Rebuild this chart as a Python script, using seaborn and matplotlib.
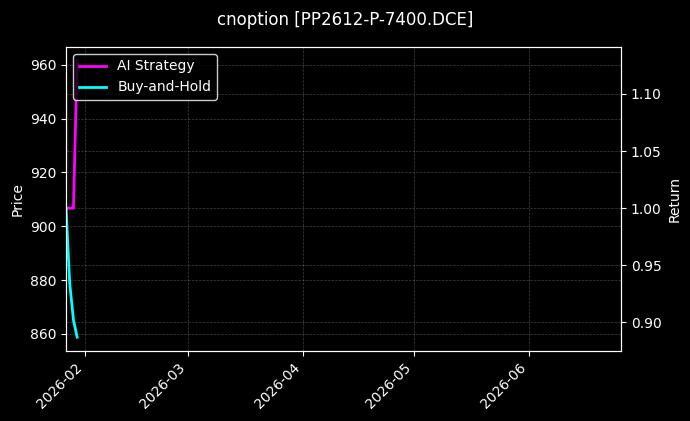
import numpy as np
import pandas as pd
import seaborn as sns
import matplotlib.pyplot as plt
import matplotlib.dates as mdates

# values
dates = pd.to_datetime(["2026-01-27", "2026-01-28", "2026-01-29", "2026-01-30"])
price = [961.5, 905.0, 872.0, 858.8]
ai_strategy = [1.0, 1.0, 1.0, 1.129]
buy_and_hold = [1.0, 0.934, 0.902, 0.887]
x_start = pd.Timestamp("2026-01-27")
x_end = pd.Timestamp("2026-06-26")
title = "cnoption [PP2612-P-7400.DCE]"

plt.style.use("dark_background")

df = pd.DataFrame({"date": dates, "price": price,
                   "AI Strategy": ai_strategy, "Buy-and-Hold": buy_and_hold})

fig, ax = plt.subplots(figsize=(6.9, 4.21), dpi=100)
fig.subplots_adjust(left=0.0957, right=0.9, top=0.8884, bottom=0.1663)

# price on the left axis (barely visible in the original)
sns.lineplot(data=df, x="date", y="price", ax=ax, color="#3a1010", linewidth=1, alpha=0.6)
ax.set_ylabel("Price")
ax.set_xlabel("")

ax2 = ax.twinx()
sns.lineplot(data=df, x="date", y="AI Strategy", ax=ax2, color="#ff00ff",
             linewidth=2, label="AI Strategy")
sns.lineplot(data=df, x="date", y="Buy-and-Hold", ax=ax2, color="#00ffff",
             linewidth=2, label="Buy-and-Hold")
ax2.set_ylabel("Return")

ax.set_xlim(x_start, x_end)
ax.xaxis.set_major_locator(mdates.MonthLocator())
ax.xaxis.set_major_formatter(mdates.DateFormatter("%Y-%m"))
plt.setp(ax.get_xticklabels(), rotation=45, ha="right")

ax.grid(True, linestyle="--", linewidth=0.5, alpha=0.25)
ax2.grid(True, linestyle="--", linewidth=0.5, alpha=0.25)

leg = ax2.legend(loc="upper left", facecolor="black", edgecolor="white", framealpha=0.8)

fig.suptitle(title, fontsize=12, y=0.975)

fig.savefig("out.png", dpi=100)
